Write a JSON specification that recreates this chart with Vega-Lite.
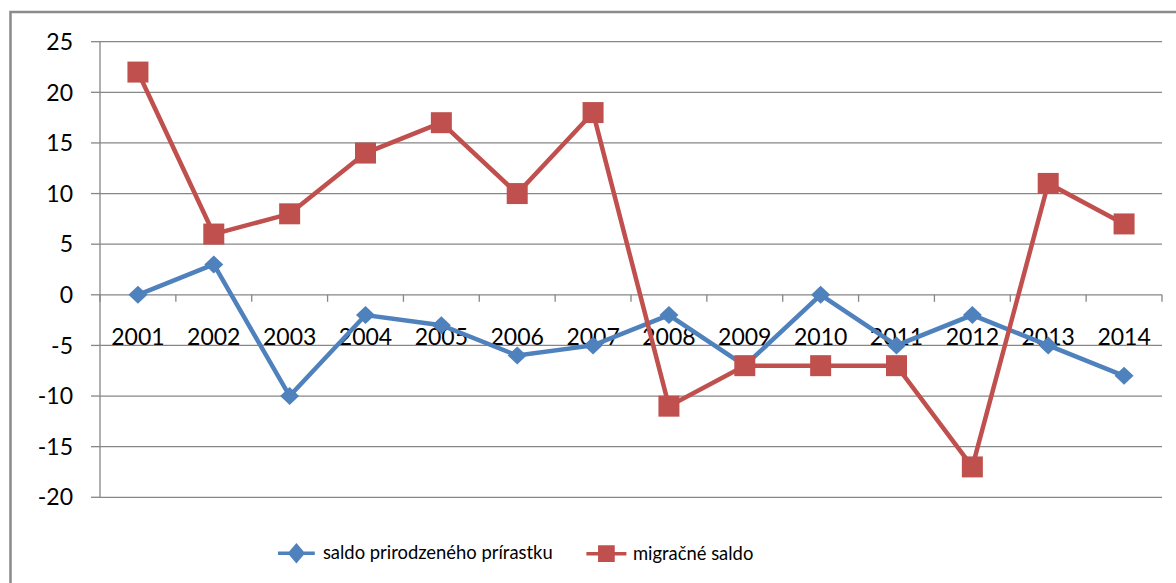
{
  "$schema": "https://vega.github.io/schema/vega-lite/v6.json",
  "width": 1176,
  "height": 583,
  "autosize": {"type": "none"},
  "padding": 0,
  "background": "white",
  "config": {"view": {"stroke": null}, "font": "Lato"},
  "datasets": {
    "series": [
      {"year": 2001, "series": "saldo prirodzeného prírastku", "value": 0},
      {"year": 2002, "series": "saldo prirodzeného prírastku", "value": 3},
      {"year": 2003, "series": "saldo prirodzeného prírastku", "value": -10},
      {"year": 2004, "series": "saldo prirodzeného prírastku", "value": -2},
      {"year": 2005, "series": "saldo prirodzeného prírastku", "value": -3},
      {"year": 2006, "series": "saldo prirodzeného prírastku", "value": -6},
      {"year": 2007, "series": "saldo prirodzeného prírastku", "value": -5},
      {"year": 2008, "series": "saldo prirodzeného prírastku", "value": -2},
      {"year": 2009, "series": "saldo prirodzeného prírastku", "value": -7},
      {"year": 2010, "series": "saldo prirodzeného prírastku", "value": 0},
      {"year": 2011, "series": "saldo prirodzeného prírastku", "value": -5},
      {"year": 2012, "series": "saldo prirodzeného prírastku", "value": -2},
      {"year": 2013, "series": "saldo prirodzeného prírastku", "value": -5},
      {"year": 2014, "series": "saldo prirodzeného prírastku", "value": -8},
      {"year": 2001, "series": "migračné saldo", "value": 22},
      {"year": 2002, "series": "migračné saldo", "value": 6},
      {"year": 2003, "series": "migračné saldo", "value": 8},
      {"year": 2004, "series": "migračné saldo", "value": 14},
      {"year": 2005, "series": "migračné saldo", "value": 17},
      {"year": 2006, "series": "migračné saldo", "value": 10},
      {"year": 2007, "series": "migračné saldo", "value": 18},
      {"year": 2008, "series": "migračné saldo", "value": -11},
      {"year": 2009, "series": "migračné saldo", "value": -7},
      {"year": 2010, "series": "migračné saldo", "value": -7},
      {"year": 2011, "series": "migračné saldo", "value": -7},
      {"year": 2012, "series": "migračné saldo", "value": -17},
      {"year": 2013, "series": "migračné saldo", "value": 11},
      {"year": 2014, "series": "migračné saldo", "value": 7}
    ],
    "grid": [
      {"g": -20}, {"g": -15}, {"g": -10}, {"g": -5}, {"g": 0},
      {"g": 5}, {"g": 10}, {"g": 15}, {"g": 20}, {"g": 25}
    ],
    "bounds": [
      {"b": 2000.5}, {"b": 2001.5}, {"b": 2002.5}, {"b": 2003.5}, {"b": 2004.5},
      {"b": 2005.5}, {"b": 2006.5}, {"b": 2007.5}, {"b": 2008.5}, {"b": 2009.5},
      {"b": 2010.5}, {"b": 2011.5}, {"b": 2012.5}, {"b": 2013.5}, {"b": 2014.5}
    ]
  },
  "layer": [
    {
      "data": {"name": "grid"},
      "transform": [{"filter": "datum.g == 25"}],
      "mark": {"type": "rect", "filled": false, "color": "#8a8a8a", "strokeWidth": 2.5},
      "encoding": {
        "x": {"datum": 1999.32, "type": "quantitative", "scale": {"domain": [1999.1817, 2014.6846], "nice": false, "zero": false}, "axis": null},
        "x2": {"datum": 2016.5},
        "y": {"datum": 27.93, "type": "quantitative", "scale": {"domain": [-28.467, 29.119], "nice": false, "zero": false}, "axis": null},
        "y2": {"datum": -35}
      }
    },
    {
      "data": {"name": "grid"},
      "mark": {"type": "rule", "color": "#868686", "strokeWidth": 1.3},
      "encoding": {
        "x": {"datum": 2000.5, "type": "quantitative", "scale": {"domain": [1999.1817, 2014.6846], "nice": false, "zero": false}, "axis": null},
        "x2": {"datum": 2014.5},
        "y": {"field": "g", "type": "quantitative", "scale": {"domain": [-28.467, 29.119], "nice": false, "zero": false}, "axis": null}
      }
    },
    {
      "data": {"name": "grid"},
      "mark": {"type": "rule", "color": "#868686", "strokeWidth": 1.3},
      "encoding": {
        "x": {"datum": 2000.5, "type": "quantitative", "scale": {"domain": [1999.1817, 2014.6846], "nice": false, "zero": false}, "axis": null},
        "x2": {"datum": 2000.3814},
        "y": {"field": "g", "type": "quantitative", "scale": {"domain": [-28.467, 29.119], "nice": false, "zero": false}, "axis": null}
      }
    },
    {
      "data": {"name": "grid"},
      "mark": {"type": "text", "align": "right", "baseline": "alphabetic", "dx": -27, "dy": 8.2, "fontSize": 23, "font": "Lato", "color": "black"},
      "encoding": {
        "x": {"datum": 2000.5, "type": "quantitative", "scale": {"domain": [1999.1817, 2014.6846], "nice": false, "zero": false}, "axis": null},
        "y": {"field": "g", "type": "quantitative", "scale": {"domain": [-28.467, 29.119], "nice": false, "zero": false}, "axis": null},
        "text": {"field": "g", "type": "nominal"}
      }
    },
    {
      "data": {"name": "bounds"},
      "transform": [{"filter": "datum.b == 2000.5"}],
      "mark": {"type": "rule", "color": "#868686", "strokeWidth": 1.3},
      "encoding": {
        "x": {"field": "b", "type": "quantitative", "scale": {"domain": [1999.1817, 2014.6846], "nice": false, "zero": false}, "axis": null},
        "y": {"datum": -20, "type": "quantitative", "scale": {"domain": [-28.467, 29.119], "nice": false, "zero": false}, "axis": null},
        "y2": {"datum": 25}
      }
    },
    {
      "data": {"name": "bounds"},
      "mark": {"type": "rule", "color": "#868686", "strokeWidth": 1.3},
      "encoding": {
        "x": {"field": "b", "type": "quantitative", "scale": {"domain": [1999.1817, 2014.6846], "nice": false, "zero": false}, "axis": null},
        "y": {"datum": 0, "type": "quantitative", "scale": {"domain": [-28.467, 29.119], "nice": false, "zero": false}, "axis": null},
        "y2": {"datum": -0.69}
      }
    },
    {
      "data": {"name": "series"},
      "transform": [{"filter": "datum.series == 'saldo prirodzeného prírastku'"}],
      "mark": {"type": "text", "align": "center", "baseline": "alphabetic", "dy": 50.2, "fontSize": 23, "font": "Lato", "color": "black"},
      "encoding": {
        "x": {"field": "year", "type": "quantitative", "scale": {"domain": [1999.1817, 2014.6846], "nice": false, "zero": false}, "axis": null},
        "y": {"datum": 0, "type": "quantitative", "scale": {"domain": [-28.467, 29.119], "nice": false, "zero": false}, "axis": null},
        "text": {"field": "year", "type": "nominal"}
      }
    },
    {
      "data": {"name": "series"},
      "mark": {"type": "line", "strokeWidth": 4.5},
      "encoding": {
        "x": {"field": "year", "type": "quantitative", "scale": {"domain": [1999.1817, 2014.6846], "nice": false, "zero": false}, "axis": null},
        "y": {"field": "value", "type": "quantitative", "scale": {"domain": [-28.467, 29.119], "nice": false, "zero": false}, "axis": null},
        "color": {
          "field": "series", "type": "nominal",
          "scale": {"domain": ["saldo prirodzeného prírastku", "migračné saldo"], "range": ["#4F81BD", "#C0504D"]},
          "legend": {
            "orient": "none", "legendX": 274.4, "legendY": 531, "direction": "horizontal", "columns": 2,
            "title": null, "symbolSize": 1600, "symbolStrokeWidth": 3.5, "labelFontSize": 18.4,
            "labelFont": "Lato", "labelColor": "black", "labelOffset": 4.5, "columnPadding": 26,
            "padding": 0, "labelLimit": 0,
            "encode": {
              "symbols": {
                "update": {
                  "shape": {"signal": "datum.value == 'migračné saldo' ? 'M-1,0H1M-0.33,-0.33H0.33V0.33H-0.33Z' : 'M-0.92,0H0.92M0,-0.38L0.32,0L0,0.38L-0.32,0Z'"},
                  "fill": {"scale": "color", "field": "value"},
                  "stroke": {"scale": "color", "field": "value"},
                  "strokeWidth": {"value": 3.5},
                  "opacity": {"value": 1}
                }
              }
            }
          }
        }
      }
    },
    {
      "data": {"name": "series"},
      "transform": [{"filter": "datum.series == 'saldo prirodzeného prírastku'"}],
      "mark": {"type": "point", "filled": true, "opacity": 1, "shape": "M-1,0L0,-0.95L1,0L0,0.95Z", "size": 361, "color": "#4F81BD", "strokeWidth": 0},
      "encoding": {
        "x": {"field": "year", "type": "quantitative", "scale": {"domain": [1999.1817, 2014.6846], "nice": false, "zero": false}, "axis": null},
        "y": {"field": "value", "type": "quantitative", "scale": {"domain": [-28.467, 29.119], "nice": false, "zero": false}, "axis": null}
      }
    },
    {
      "data": {"name": "series"},
      "transform": [{"filter": "datum.series == 'migračné saldo'"}],
      "mark": {"type": "point", "filled": true, "opacity": 1, "shape": "square", "size": 441, "color": "#C0504D", "strokeWidth": 0},
      "encoding": {
        "x": {"field": "year", "type": "quantitative", "scale": {"domain": [1999.1817, 2014.6846], "nice": false, "zero": false}, "axis": null},
        "y": {"field": "value", "type": "quantitative", "scale": {"domain": [-28.467, 29.119], "nice": false, "zero": false}, "axis": null}
      }
    }
  ]
}
